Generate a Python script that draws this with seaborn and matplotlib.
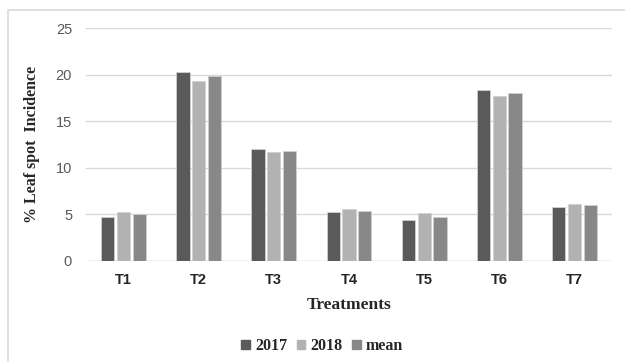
import pandas as pd
import matplotlib
matplotlib.use("Agg")
import matplotlib.pyplot as plt
import seaborn as sns
from matplotlib.patches import Rectangle

# values
treatments = ["T1", "T2", "T3", "T4", "T5", "T6", "T7"]
inc_2017 = [4.76, 20.3, 12.0, 5.26, 4.40, 18.4, 5.76]
inc_2018 = [5.22, 19.3, 11.7, 5.58, 5.15, 17.7, 6.12]
inc_mean = [5.04, 19.8, 11.85, 5.41, 4.76, 18.07, 5.98]
series = ["2017", "2018", "mean"]
colors = ["#5a5a5a", "#b2b2b2", "#888888"]

df = pd.DataFrame({"Treatment": treatments, "2017": inc_2017, "2018": inc_2018, "mean": inc_mean})
long_df = df.melt(id_vars="Treatment", var_name="Series", value_name="Incidence")

sns.set_theme(style="white")
plt.rcParams["font.family"] = ["Liberation Sans", "DejaVu Sans"]

fig = plt.figure(figsize=(6.25, 3.62), dpi=100)
ax = fig.add_axes([86 / 625, 1 - 261 / 362, (612 - 86) / 625, (261 - 28) / 362])

sns.barplot(
    data=long_df,
    x="Treatment",
    y="Incidence",
    hue="Series",
    hue_order=series,
    palette=colors,
    width=0.63,
    gap=0.16,
    edgecolor="#d0d0d0",
    linewidth=0.6,
    ax=ax,
    zorder=3,
)

ax.set_ylim(0, 25)
ax.set_yticks([0, 5, 10, 15, 20, 25])
ax.set_xlim(-0.5, 6.5)
ax.yaxis.grid(True, color="#d9d9d9", linewidth=1.0, zorder=0)
ax.set_axisbelow(True)
for side in ["top", "right", "left", "bottom"]:
    ax.spines[side].set_visible(False)
ax.axhline(0, color="#d9d9d9", linewidth=1.0, zorder=1)

ax.tick_params(axis="y", labelsize=10.5, labelcolor="#595959", length=0, pad=10)
ax.tick_params(axis="x", labelsize=10.5, length=0, pad=9)
for lbl in ax.get_xticklabels():
    lbl.set_fontweight("bold")
    lbl.set_color("#262626")

ax.set_xlabel("Treatments", family="Liberation Serif", fontweight="bold", fontsize=12.5, labelpad=7)
ax.set_ylabel("% Leaf spot  Incidence", family="Liberation Serif", fontweight="bold", fontsize=11.5)
ax.yaxis.set_label_coords((40 - 86) / 526, 0.5)

ax.legend_.remove()
handles = [Rectangle((0, 0), 1, 1, color=c) for c in colors]
fig.legend(
    handles,
    series,
    loc="center",
    bbox_to_anchor=(322 / 625, 1 - 346 / 362),
    ncol=3,
    frameon=False,
    prop={"family": "Liberation Serif", "weight": "bold", "size": 11.5},
    handlelength=0.55,
    handleheight=0.55,
    handletextpad=0.3,
    columnspacing=0.6,
)

# light outer frame like the source chart area
fig.patches.append(
    Rectangle((8 / 625, -0.02), 1.0, 1 - 10 / 362 + 0.02, transform=fig.transFigure,
              fill=False, edgecolor="#d9d9d9", linewidth=1.2)
)

fig.savefig("out.png", dpi=100)
